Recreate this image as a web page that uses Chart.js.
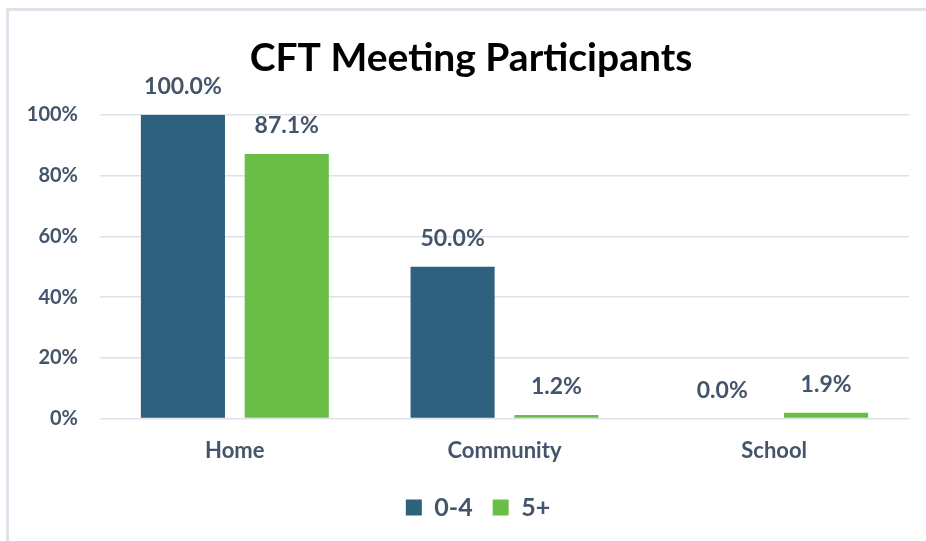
<!DOCTYPE html>
<html>
<head>
<meta charset="utf-8">
<script src="https://cdn.jsdelivr.net/npm/chart.js@4.4.0/dist/chart.umd.min.js"></script>
<style>
  body { margin: 0; background: #fff; }
  #wrap {
    position: absolute; left: 6px; top: 8px;
    width: 920px; height: 533px;
    border-top: 3px solid #DEE3E9; border-left: 3px solid #DEE3E9;
  }
</style>
</head>
<body>
<div id="wrap"><canvas id="myChart" width="917" height="530"></canvas></div>
<script>
var categories = ['Home', 'Community', 'School'];
var seriesNames = ['0-4', '5+'];
var values04 = [100.0, 50.0, 0.0];
var values5plus = [87.1, 1.2, 1.9];
var yTicks = [0, 20, 40, 60, 80, 100];

var labelColor = '#44546A';

// draws the value over each bar
var barValues = {
  id: 'barValues',
  afterDatasetsDraw: function(chart) {
    var ctx = chart.ctx;
    ctx.save();
    ctx.font = 'bold 23px Lato';
    ctx.fillStyle = labelColor;
    ctx.textAlign = 'center';
    ctx.textBaseline = 'middle';
    chart.data.datasets.forEach(function(ds, i) {
      var meta = chart.getDatasetMeta(i);
      meta.data.forEach(function(bar, j) {
        ctx.fillText(ds.data[j].toFixed(1) + '%', bar.x, bar.y - 28);
      });
    });
    ctx.restore();
  }
};

// title and legend sit a bit right of centre in the original
var nudge = {
  id: 'nudge',
  afterLayout: function(chart) {
    chart.titleBlock.left += 12;
    chart.titleBlock.right += 12;
    chart.legend.left += 19;
    chart.legend.right += 19;
  }
};

var ctx = document.getElementById('myChart').getContext('2d');
var myChart = new Chart(ctx, {
  type: 'bar',
  data: {
    labels: categories,
    datasets: [{
      label: seriesNames[0],
      data: values04,
      backgroundColor: '#2E617E',
      borderWidth: 0
    }, {
      label: seriesNames[1],
      data: values5plus,
      backgroundColor: '#6ABE45',
      borderWidth: 0
    }]
  },
  options: {
    responsive: false,
    animation: false,
    categoryPercentage: 0.77,
    barPercentage: 0.81,
    layout: { padding: { left: 0, right: 17, top: 0, bottom: 11 } },
    plugins: {
      title: {
        display: true,
        text: 'CFT Meeting Participants',
        color: '#000',
        font: { family: 'Lato', size: 39, weight: 'bold' },
        padding: { top: 24, bottom: 33 }
      },
      legend: {
        position: 'bottom',
        labels: {
          color: labelColor,
          font: { family: 'Lato', size: 25, weight: 'bold' },
          boxWidth: 16,
          boxHeight: 16,
          padding: 20
        }
      },
      tooltip: { enabled: false }
    },
    scales: {
      x: {
        grid: { display: false },
        border: { display: false },
        ticks: {
          color: labelColor,
          font: { family: 'Lato', size: 22, weight: 'bold' },
          padding: 11
        }
      },
      y: {
        min: 0,
        max: 100,
        afterBuildTicks: function(scale) {
          scale.ticks = yTicks.map(function(v) { return { value: v }; });
        },
        afterFit: function(scale) { scale.width = 91; },
        grid: { color: '#DEE2E8', lineWidth: 1.5, drawTicks: false },
        border: { display: false },
        ticks: {
          color: labelColor,
          font: { family: 'Lato', size: 20, weight: 'bold' },
          padding: 22,
          callback: function(v) { return v + '%'; }
        }
      }
    }
  },
  plugins: [barValues, nudge]
});
</script>
</body>
</html>
